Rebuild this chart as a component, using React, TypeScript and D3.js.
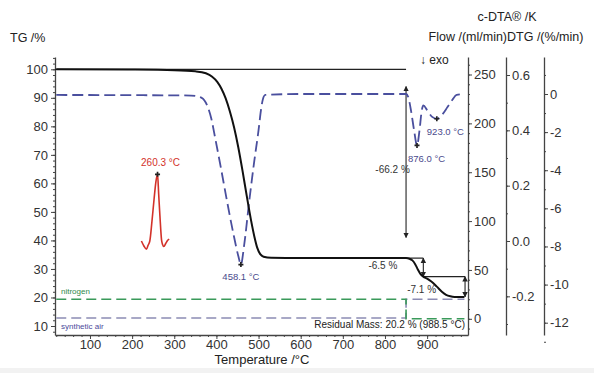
import React, { useRef, useEffect } from "react";
import * as d3 from "d3";

// axis ticks
const tempTicks = [100, 200, 300, 400, 500, 600, 700, 800, 900];
const tgTicks = [10, 20, 30, 40, 50, 60, 70, 80, 90, 100];
const flowTicks = [0, 50, 100, 150, 200, 250];
const dtaTicks = [-0.2, 0.0, 0.2, 0.4, 0.6];
const dtgTicks = [0, -2, -4, -6, -8, -10, -12];

// TG curve: [temperature °C, mass %]
const tgCurve: [number, number][] = [
  [20, 100], [200, 99.9], [300, 99.7], [350, 99.3], [375, 98.6], [390, 97.4],
  [402, 95.6], [412, 93.2], [422, 89.8], [432, 85.2], [442, 79.6], [452, 72.6],
  [462, 64.4], [472, 55.6], [482, 47.2], [490, 41.4], [497, 37.4], [504, 35.2],
  [512, 34.3], [530, 33.9], [600, 33.8], [850, 33.8], [858, 33.6], [865, 33.0],
  [872, 31.6], [878, 29.8], [884, 28.3], [891, 27.3], [900, 26.6], [910, 25.6],
  [923, 23.8], [935, 22.0], [945, 20.9], [955, 20.4], [965, 20.2], [988.5, 20.2],
];

// DTG curve: [temperature °C, %/min]
const dtgCurve: [number, number][] = [
  [20, -0.05], [340, -0.08], [365, -0.2], [378, -0.6], [388, -1.3], [397, -2.3],
  [410, -3.8], [425, -5.6], [440, -7.3], [452, -8.5], [458.1, -8.95], [466, -7.9],
  [478, -5.6], [490, -3.5], [500, -1.9], [506, -0.8], [510, -0.3], [516, -0.05],
  [600, 0], [850, 0], [855, -0.15], [862, -0.9], [869, -1.9], [876, -2.7],
  [882, -1.9], [887, -0.9], [891, -0.6], [900, -0.85], [912, -1.2], [923, -1.3],
  [935, -1.1], [948, -0.7], [960, -0.3], [970, -0.05], [988.5, 0],
];

// c-DTA curve: [temperature °C, K]
const dtaCurve: [number, number][] = [
  [222, 0.0], [228, -0.018], [234, -0.03], [238, -0.015], [242, 0.0], [247, 0.07],
  [252, 0.15], [256.5, 0.215], [260.3, 0.241], [263, 0.17], [266, 0.09],
  [269.8, 0.004], [272, -0.012], [275.3, -0.02], [280, -0.008], [284, 0.002], [288, 0.007],
];

// purge gas flows: [temperature °C, ml/min]
const nitrogenFlow: [number, number][] = [[20, 20], [850, 20], [850, 0], [988.5, 0]];
const airFlow: [number, number][] = [[20, 0.8], [850, 0.8], [850, 20], [988.5, 20]];

// peak labels
const dtgPeaks = [
  { t: 458.1, v: -8.95, label: "458.1 °C" },
  { t: 876.0, v: -2.7, label: "876.0 °C" },
  { t: 923.0, v: -1.3, label: "923.0 °C" },
];
const dtaPeak = { t: 260.3, v: 0.241, label: "260.3 °C" };

// mass loss steps: level line, arrow, label
const massSteps = [
  { from: 17, to: 850, level: 100, arrowT: 850, top: 94, bottom: 41, label: "-66.2 %", lt: 818, lv: 63.5 },
  { from: 850, to: 891, level: 33.8, arrowT: 891, top: 33.8, bottom: 27.3, label: "-6.5 %", lt: 795, lv: 30.0 },
  { from: 891, to: 990, level: 27.3, arrowT: 990, top: 27.3, bottom: 20.2, label: "-7.1 %", lt: 887, lv: 21.4 },
];

const font = "'Liberation Sans', Arial, sans-serif";

const App = () => {
  const ref = useRef<SVGSVGElement>(null);

  useEffect(() => {
    if (!ref.current) return;
    const svg = d3.select(ref.current);
    svg.selectAll("*").remove();

    const top = 57;
    const bottom = 335;
    const left = 55;
    const right = 468;

    const x = d3.scaleLinear().domain([17, 997]).range([left, right]);
    const yTG = d3.scaleLinear().domain([10, 100]).range([326, 69.3]);
    const yFlow = d3.scaleLinear().domain([0, 250]).range([318.8, 74.5]);
    const yDTA = d3.scaleLinear().domain([0, 0.6]).range([241, 75]);
    const yDTG = d3.scaleLinear().domain([0, -12]).range([94, 322.7]);

    // extend scales to the full axis height
    const full = (s: d3.ScaleLinear<number, number>) =>
      s.copy().domain([s.invert(bottom), s.invert(top)]).range([bottom, top]);

    const defs = svg.append("defs");
    defs
      .append("marker")
      .attr("id", "arr")
      .attr("viewBox", "0 0 10 10")
      .attr("refX", 9)
      .attr("refY", 5)
      .attr("markerWidth", 5)
      .attr("markerHeight", 6)
      .attr("orient", "auto-start-reverse")
      .append("path")
      .attr("d", "M0,0 L10,5 L0,10 z")
      .attr("fill", "#222");

    svg.append("rect").attr("width", 594).attr("height", 373).attr("fill", "#fff");
    svg.append("rect").attr("y", 368).attr("width", 594).attr("height", 5).attr("fill", "#f2f2f2");

    const styleAxis = (g: any, size = 13) => {
      g.select(".domain").attr("stroke", "#444").attr("stroke-width", 1.3);
      g.selectAll(".tick line").attr("stroke", "#444");
      g.selectAll(".tick text")
        .attr("fill", "#333")
        .style("font-family", font)
        .style("font-size", size + "px");
    };

    // x axis
    svg
      .append("g")
      .attr("transform", `translate(0,${bottom})`)
      .call(d3.axisBottom(x).tickValues(d3.range(20, 1000, 20)).tickSize(2).tickFormat(() => ""))
      .call((g) => g.select(".domain").remove())
      .selectAll(".tick line")
      .attr("stroke", "#444");
    const xAxisG = svg
      .append("g")
      .attr("transform", `translate(0,${bottom})`)
      .call(d3.axisBottom(x).tickValues(tempTicks).tickSize(4).tickSizeOuter(0).tickPadding(1));
    styleAxis(xAxisG);

    // TG axis
    const yTGFull = full(yTG);
    svg
      .append("g")
      .attr("transform", `translate(${left},0)`)
      .call(d3.axisLeft(yTGFull).tickValues(d3.range(8, 106, 2)).tickSize(2).tickFormat(() => ""))
      .call((g) => g.select(".domain").remove())
      .selectAll(".tick line")
      .attr("stroke", "#444");
    const tgAxisG = svg
      .append("g")
      .attr("transform", `translate(${left},0)`)
      .call(d3.axisLeft(yTGFull).tickValues(tgTicks).tickSize(4).tickSizeOuter(0).tickPadding(3));
    styleAxis(tgAxisG);

    // right axes
    const rightAxis = (
      s: d3.ScaleLinear<number, number>,
      xPos: number,
      major: number[],
      minor: number[],
      fmt: (d: number) => string
    ) => {
      const sf = full(s);
      svg
        .append("g")
        .attr("transform", `translate(${xPos},0)`)
        .call(d3.axisRight(sf).tickValues(minor).tickSize(2).tickFormat(() => ""))
        .call((g) => g.select(".domain").remove())
        .selectAll(".tick line")
        .attr("stroke", "#444");
      const g = svg
        .append("g")
        .attr("transform", `translate(${xPos},0)`)
        .call(d3.axisRight(sf).tickValues(major).tickSize(4).tickSizeOuter(0).tickPadding(2).tickFormat(fmt as any));
      styleAxis(g);
    };
    rightAxis(yFlow, right, flowTicks, d3.range(-10, 270, 10), (d) => String(d));
    rightAxis(yDTA, 506, dtaTicks, d3.range(-0.3, 0.7, 0.1), (d) => d.toFixed(1));
    rightAxis(yDTG, 544, dtgTicks, d3.range(-13, 2, 1), (d) => String(d));

    // axis titles
    const txt = (tx: number, ty: number, s: string, size: number, fill = "#222", anchor = "start") =>
      svg
        .append("text")
        .attr("x", tx)
        .attr("y", ty)
        .attr("fill", fill)
        .attr("text-anchor", anchor)
        .style("font-family", font)
        .style("font-size", size + "px")
        .text(s);
    txt(10, 42, "TG /%", 12.5);
    txt(507, 21, "c-DTA® /K", 12.5, "#222", "middle");
    txt(506, 41, "Flow /(ml/min)DTG /(%/min)", 12.5, "#222", "middle");
    txt(262, 364, "Temperature /°C", 13, "#222", "middle");
    txt(420, 64, "↓ exo", 12);

    // gas flows
    const line = d3
      .line<[number, number]>()
      .x((d) => x(d[0]));
    svg
      .append("path")
      .attr("d", line.y((d) => yFlow(d[1]))(airFlow))
      .attr("fill", "none")
      .attr("stroke", "#8c8cb4")
      .attr("stroke-width", 1.6)
      .attr("stroke-dasharray", "10,5");
    svg
      .append("path")
      .attr("d", line.y((d) => yFlow(d[1]))(nitrogenFlow))
      .attr("fill", "none")
      .attr("stroke", "#3a9a5a")
      .attr("stroke-width", 1.6)
      .attr("stroke-dasharray", "10,5");
    txt(61, 294, "nitrogen", 8, "#2f8a4a");
    txt(61, 329, "synthetic air", 8, "#4a4a9a");

    // mass steps
    massSteps.forEach((s) => {
      svg
        .append("line")
        .attr("x1", x(s.from))
        .attr("x2", x(s.to))
        .attr("y1", yTG(s.level))
        .attr("y2", yTG(s.level))
        .attr("stroke", "#222")
        .attr("stroke-width", 1.2);
      svg
        .append("line")
        .attr("x1", x(s.arrowT))
        .attr("x2", x(s.arrowT))
        .attr("y1", yTG(s.top))
        .attr("y2", yTG(s.bottom))
        .attr("stroke", "#222")
        .attr("stroke-width", 1.1)
        .attr("marker-start", "url(#arr)")
        .attr("marker-end", "url(#arr)");
      txt(x(s.lt), yTG(s.lv), s.label, 10, "#333", "middle");
    });

    // DTG
    const smooth = d3
      .line<[number, number]>()
      .x((d) => x(d[0]))
      .curve(d3.curveMonotoneX);
    svg
      .append("path")
      .attr("d", smooth.y((d) => yDTG(d[1]))(dtgCurve))
      .attr("fill", "none")
      .attr("stroke", "#4a4f9e")
      .attr("stroke-width", 1.8)
      .attr("stroke-dasharray", "11,5");

    // TG
    svg
      .append("path")
      .attr("d", smooth.y((d) => yTG(d[1]))(tgCurve))
      .attr("fill", "none")
      .attr("stroke", "#111")
      .attr("stroke-width", 2);

    // c-DTA
    svg
      .append("path")
      .attr("d", smooth.y((d) => yDTA(d[1]))(dtaCurve))
      .attr("fill", "none")
      .attr("stroke", "#d3322a")
      .attr("stroke-width", 1.6);

    const cross = d3.symbol().type(d3.symbolCross).size(14);
    dtgPeaks.forEach((p, i) => {
      svg
        .append("path")
        .attr("d", cross())
        .attr("transform", `translate(${x(p.t)},${yDTG(p.v)})`)
        .attr("fill", "#222");
      const pos = [
        [0, 15, "middle"],
        [-9, 17, "start"],
        [-10, 16, "start"],
      ][i] as [number, number, string];
      txt(x(p.t) + pos[0], yDTG(p.v) + pos[1], p.label, 9.5, "#4a4a8c", pos[2]);
    });
    svg
      .append("path")
      .attr("d", cross())
      .attr("transform", `translate(${x(dtaPeak.t)},${yDTA(dtaPeak.v)})`)
      .attr("fill", "#222");
    txt(x(dtaPeak.t) + 3, yDTA(dtaPeak.v) - 8, dtaPeak.label, 10, "#d3322a", "middle");

    txt(465, 328, "Residual Mass: 20.2 % (988.5 °C)", 10, "#222", "end");
  }, []);

  return (
    <svg
      ref={ref}
      width={594}
      height={373}
      style={{ position: "absolute", left: 0, top: 0, background: "#fff" }}
    />
  );
};

export default App;
